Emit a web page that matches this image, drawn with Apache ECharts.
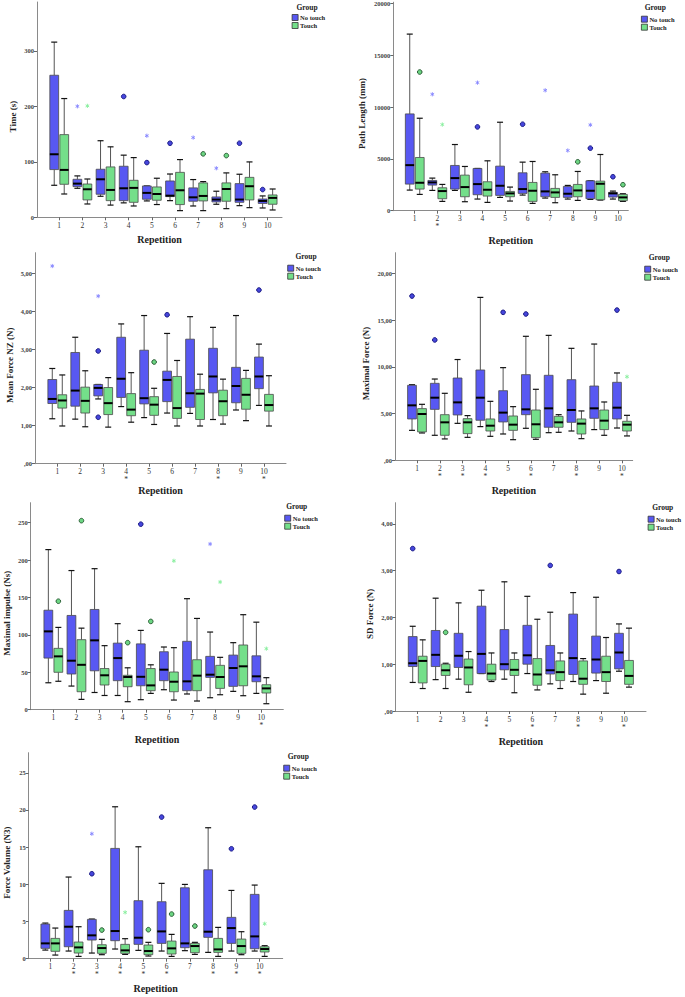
<!DOCTYPE html>
<html><head><meta charset="utf-8">
<script src="https://cdn.jsdelivr.net/npm/echarts@6/dist/echarts.min.js"></script>
<style>html,body{margin:0;padding:0;background:#fff}#c{width:685px;height:997px}</style>
</head><body><div id="c"></div>
<script>
// ---------- DATA ----------
const reps = [1,2,3,4,5,6,7,8,9,10];
const groups = ['No touch','Touch'];

// Each box: [min, Q1, median, Q3, max]; outliers: [repetition, value, kind] ('o' outlier, '*' extreme)
const timeNoTouch = [[57.7,86,113.6,256,315.7],[52.3,55.3,60.7,68.5,74.6],[37.9,41.5,68.5,86.6,138],[26,30,52.3,92,112],[29.5,32.5,44,56.5,56.5],[30,37.3,39,65.5,78],[20.4,28.9,36,53,68],[23.5,27.7,32,36.7,47],[21,27,32,60.7,77.6],[16.8,25,29.5,33,38.5]];
const timeTouch = [[42,59.5,85.4,149,214],[24,31.3,50.5,60,69],[22,30,49.3,90.8,127],[20.4,27,53,66.7,107.6],[23,30.7,42,54.7,70.4],[12,22.9,48.7,81,104],[12,29.5,38.5,62,64.3],[15.6,28.9,51,62,80],[17.4,31.3,56,72,99.8],[13.2,23.5,35,40.3,51]];
const timeOutNoTouch = [[2,200,'*'],[4,217.7,'o'],[5,98.6,'o'],[5,147,'*'],[6,133.5,'o'],[7,143.7,'*'],[8,88.4,'*'],[9,133.5,'o'],[10,50,'o']];
const timeOutTouch = [[2,200.8,'*'],[7,114.3,'o'],[8,111.2,'o']];
const timeTicks = [0,100,200,300];
const timeSigReps = [];

const pathNoTouch = [[1990,2568,4398,9342,17046],[1958,2472,2729,2921,3146],[1958,2087,3146,4366,6388],[1124,1541,2568,4077,4077],[1284,1477,2408,4302,8539],[1509,1669,2087,3660,4687],[1220,1348,1862,3628,3756],[1124,1284,1637,2343,2440],[1091,1156,1926,2889,2889],[1124,1316,1669,1766,1894]];
const pathTouch = [[1573,2087,2697,5136,8925],[899,1156,1894,2215,2536],[867,1348,2279,3435,4270],[803,1412,2022,2793,4815],[931,1348,1669,1862,2279],[706,899,1926,2729,4751],[770,1284,1766,2151,3467],[995,1348,1958,2536,3788],[1027,1059,2600,2857,5425],[899,963,1284,1573,1637]];
const pathOutNoTouch = [[2,11236,'*'],[4,8090,'o'],[4,12360,'*'],[6,8347,'o'],[7,11621,'*'],[8,5811,'*'],[9,6035,'o'],[9,8283,'*'],[10,3274,'o']];
const pathOutTouch = [[1,13387,'o'],[2,8315,'*'],[8,4719,'o'],[10,2504,'o']];
const pathTicks = [0,5000,10000,15000,20000];
const pathSigReps = [2];

const meanNoTouch = [[1.18,1.58,1.70,2.21,2.50],[1.17,1.51,1.92,2.92,3.32],[1.70,1.78,1.99,2.08,2.08],[1.50,1.74,2.23,3.32,3.67],[1.21,1.57,1.72,2.98,3.89],[1.33,1.63,2.20,2.43,3.42],[1.32,1.48,1.85,3.27,3.86],[1.16,1.86,2.29,3.03,3.58],[1.41,1.60,2.04,2.53,3.89],[1.53,1.97,2.29,2.80,3.14]];
const meanTouch = [[0.99,1.46,1.66,1.81,2.33],[0.97,1.33,1.65,2.01,2.44],[0.96,1.29,1.59,2.00,2.26],[1.09,1.26,1.42,1.84,2.39],[1.03,1.27,1.55,1.76,1.98],[0.99,1.19,1.46,2.29,2.71],[0.99,1.16,1.84,1.95,2.35],[1.04,1.26,1.64,1.93,2.22],[1.13,1.43,1.81,2.24,2.45],[0.99,1.38,1.54,1.82,2.31]];
const meanOutNoTouch = [[1,5.19,'*'],[3,2.96,'o'],[3,1.22,'o'],[3,4.40,'*'],[6,3.91,'o'],[10,4.56,'o']];
const meanOutTouch = [[5,2.67,'o']];
const meanTicks = [0,1,2,3,4,5];
const meanSigReps = [4,8,10];

const maxfNoTouch = [[3.21,4.43,5.89,8.04,8.10],[2.68,5.46,6.71,8.25,8.71],[3.96,4.86,6.21,8.82,10.8],[3.61,4.29,6.71,9.68,17.46],[2.82,4.11,5.11,7.46,9.93],[3.43,4.89,5.46,9.18,13.29],[2.96,3.54,5.57,9.11,13.39],[3.14,4.07,5.39,8.64,12.0],[3.29,4.5,5.57,7.96,12.46],[3.46,4.43,5.64,8.36,9.36]];
const maxfTouch = [[2.93,3.04,4.96,5.54,6.0],[2.29,2.68,4.07,4.89,7.18],[2.46,2.86,4.07,4.46,4.79],[2.57,3.14,3.71,4.43,6.32],[2.21,3.21,3.82,4.75,5.75],[2.25,2.43,3.86,5.39,7.61],[3.0,3.54,4.07,4.71,4.89],[2.32,2.82,3.93,4.43,5.29],[2.68,3.29,4.25,5.39,6.25],[2.61,3.14,3.82,4.18,4.82]];
const maxfOutNoTouch = [[1,17.6,'o'],[2,12.9,'o'],[5,15.86,'o'],[6,15.68,'o'],[10,16.1,'o']];
const maxfOutTouch = [[10,8.96,'*']];
const maxfTicks = [0,5,10,15,20];
const maxfSigReps = [2,3,4,6,8,10];

const impNoTouch = [[36,69,104.7,133,214],[31.6,47.7,65.5,126,186],[23,52,92.7,134,188.5],[19,38.8,69,89,115],[13.4,32,44,88,106],[26.7,38.8,53.5,77.5,83.8],[21,25.4,37.9,91.4,148.4],[16,43.2,46.8,71.3,103.8],[24.5,31.2,55.7,73,89.6],[21.8,37.4,44.6,72,117]];
const impTouch = [[38,50,71.3,82,110],[13.8,24,60,93.6,109],[19,33,46,55,85.6],[10.7,30.7,43.7,46,56],[21.8,25.4,32.5,55,60],[12.9,24,37.4,50.4,82.9],[11.6,25.4,45.5,66.8,122],[20,28.5,43.7,59.3,70],[18.7,32,58,86.5,127],[8,22.3,28.5,33.4,42.8]];
const impOutNoTouch = [[5,248,'o'],[8,221.5,'*']];
const impOutTouch = [[1,145,'o'],[2,252.7,'o'],[4,89.6,'o'],[5,118,'o'],[6,199,'*'],[8,170.7,'*'],[10,81.6,'*']];
const impTicks = [0,50,100,150,200,250];
const impSigReps = [10];

const sdNoTouch = [[0.61,0.95,1.02,1.59,1.81],[0.67,0.95,1.20,1.72,2.41],[0.68,0.93,1.18,1.66,2.31],[0.80,0.80,1.22,2.24,2.58],[0.68,0.88,1.00,1.74,2.76],[0.80,1.00,1.19,1.83,2.45],[0.58,0.79,0.87,1.40,2.11],[0.63,0.78,1.13,2.07,2.53],[0.65,0.81,1.10,1.60,2.43],[0.85,0.90,1.25,1.66,1.86]];
const sdTouch = [[0.48,0.60,1.07,1.17,1.52],[0.48,0.76,0.87,1.00,1.02],[0.40,0.56,0.93,1.11,1.27],[0.63,0.66,0.80,1.00,1.24],[0.39,0.76,0.88,1.10,1.24],[0.45,0.55,0.78,1.12,1.96],[0.48,0.65,0.83,1.07,1.24],[0.36,0.57,0.69,1.07,1.12],[0.38,0.63,0.83,1.17,1.57],[0.51,0.57,0.75,1.08,1.77]];
const sdOutNoTouch = [[1,3.47,'o'],[7,3.11,'o'],[10,2.98,'o']];
const sdOutTouch = [[2,1.68,'o']];
const sdTicks = [0,1,2,3,4];
const sdSigReps = [4,6,8,10];

const volNoTouch = [[1.16,1.39,2.06,4.66,4.79],[1.03,1.61,4.30,6.50,10.98],[0.76,2.51,3.14,5.29,5.33],[1.30,2.42,3.72,14.83,20.43],[1.12,1.93,2.82,7.80,15.05],[1.03,2.06,3.67,7.66,10.13],[1.08,1.48,2.06,9.54,9.99],[0.85,2.87,3.63,11.96,17.61],[1.03,2.06,4.12,5.56,9.18],[1.03,1.34,3.0,8.65,9.90]];
const volTouch = [[0.49,0.99,2.06,2.73,4.12],[0.31,0.76,1.52,2.24,4.30],[0.54,0.72,1.43,1.88,2.60],[0.58,0.72,1.12,1.93,2.69],[0.36,0.54,1.03,1.84,2.20],[0.31,0.63,1.39,2.37,3.27],[0.58,0.81,1.70,2.06,2.20],[0.31,0.85,1.25,2.73,4.21],[0.54,0.72,1.70,2.64,3.63],[0.31,0.90,1.30,1.61,1.75]];
const volOutNoTouch = [[3,11.42,'o'],[3,16.8,'*'],[6,19.04,'o'],[9,14.78,'o'],[10,20.39,'o']];
const volOutTouch = [[3,3.85,'o'],[4,6.23,'*'],[5,3.90,'o'],[6,6.0,'o'],[7,4.39,'o'],[10,4.70,'*']];
const volTicks = [0,5,10,15,20,25];
const volSigReps = [2,3,4,5,6,8,9,10];

// ---------- LAYOUT ----------
const panels = [
  {yName:'Time (s)', nt:timeNoTouch, t:timeTouch, ont:timeOutNoTouch, ot:timeOutTouch, ticks:timeTicks, sig:timeSigReps, dec:false,
   l:37, tp:2, r:282, b:217.3, xr:[0.04,10.62], yMax:388, yGap:20, xGap:17, leg:[291.7,14], grp:[307,7]},
  {yName:'Path Length (mm)', nt:pathNoTouch, t:pathTouch, ont:pathOutNoTouch, ot:pathOutTouch, ticks:pathTicks, sig:pathSigReps, dec:false,
   l:393.3, tp:1.7, r:628.3, b:210.7, xr:[0.05,10.46], yMax:20125, yGap:27, xGap:25, leg:[641,15.7], grp:[655.3,7.3]},
  {yName:'Mean Force NZ (N)', nt:meanNoTouch, t:meanTouch, ont:meanOutNoTouch, ot:meanOutTouch, ticks:meanTicks, sig:meanSigReps, dec:true,
   l:35, tp:252.7, r:286, b:463.7, xr:[0.03,10.96], yMax:5.54, yGap:21, xGap:22, leg:[287.3,264.7], grp:[306,256.7]},
  {yName:'Maximal Force (N)', nt:maxfNoTouch, t:maxfTouch, ont:maxfOutNoTouch, ot:maxfOutTouch, ticks:maxfTicks, sig:maxfSigReps, dec:true,
   l:395, tp:252.7, r:632.7, b:460.3, xr:[0.034,10.47], yMax:22.25, yGap:25, xGap:25, leg:[644.3,265.7], grp:[659.3,257.3]},
  {yName:'Maximal impulse (Ns)', nt:impNoTouch, t:impTouch, ont:impOutNoTouch, ot:impOutTouch, ticks:impTicks, sig:impSigReps, dec:false,
   l:30.7, tp:502.7, r:283.3, b:709.7, xr:[0.02,10.95], yMax:276.7, yGap:19, xGap:25, leg:[284.3,514.7], grp:[296.7,506.7]},
  {yName:'SD Force (N)', nt:sdNoTouch, t:sdTouch, ont:sdOutNoTouch, ot:sdOutTouch, ticks:sdTicks, sig:sdSigReps, dec:true,
   l:395.7, tp:502.7, r:646, b:711, xr:[0.04,10.96], yMax:4.45, yGap:21, xGap:25, leg:[647.7,515.7], grp:[662.7,507.3]},
  {yName:'Force Volume (N3)', nt:volNoTouch, t:volTouch, ont:volOutNoTouch, ot:volOutTouch, ticks:volTicks, sig:volSigReps, dec:false,
   l:28.7, tp:752.7, r:282.7, b:958.7, xr:[0.07,10.99], yMax:27.7, yGap:17, xGap:25, leg:[283.3,764.7], grp:[298.3,756.7]}
];

const FONT = '"Liberation Serif", "Times New Roman", serif';
const BLUE = '#5858f2', GREEN = '#74df8a';
const OFF = 5;

function boxRenderer(offset, fill) {
  return function (params, api) {
    const x = api.value(0);
    const pLo = api.coord([x, api.value(1)]);
    const pQ1 = api.coord([x, api.value(2)]);
    const pMd = api.coord([x, api.value(3)]);
    const pQ3 = api.coord([x, api.value(4)]);
    const pHi = api.coord([x, api.value(5)]);
    const cx = pLo[0] + offset, hw = 4.4, cw = 3;
    return {type:'group', children:[
      {type:'line', shape:{x1:cx,y1:pHi[1],x2:cx,y2:pQ3[1]}, style:{stroke:'#555',lineWidth:1}},
      {type:'line', shape:{x1:cx,y1:pQ1[1],x2:cx,y2:pLo[1]}, style:{stroke:'#555',lineWidth:1}},
      {type:'line', shape:{x1:cx-cw,y1:pHi[1],x2:cx+cw,y2:pHi[1]}, style:{stroke:'#111',lineWidth:1.2}},
      {type:'line', shape:{x1:cx-cw,y1:pLo[1],x2:cx+cw,y2:pLo[1]}, style:{stroke:'#111',lineWidth:1.2}},
      {type:'rect', shape:{x:cx-hw,y:pQ3[1],width:hw*2,height:Math.max(pQ1[1]-pQ3[1],0.6)}, style:{fill:fill,stroke:'#4a4a4a',lineWidth:0.8}},
      {type:'line', shape:{x1:cx-hw,y1:pMd[1],x2:cx+hw,y2:pMd[1]}, style:{stroke:'#000',lineWidth:2}}
    ]};
  };
}
function outRenderer(offset, fill, stroke, starColor) {
  return function (params, api) {
    const p = api.coord([api.value(0), api.value(1)]);
    const cx = p[0] + offset, cy = p[1];
    if (api.value(2) === 1) {
      const r = 2.1;
      return {type:'group', children:[0,60,120].map(function (a) {
        const rad = a * Math.PI / 180;
        return {type:'line', shape:{x1:cx-r*Math.sin(rad), y1:cy-r*Math.cos(rad), x2:cx+r*Math.sin(rad), y2:cy+r*Math.cos(rad)}, style:{stroke:starColor, lineWidth:0.9}};
      })};
    }
    return {type:'circle', shape:{cx:cx, cy:cy, r:2.3}, style:{fill:fill, stroke:stroke, lineWidth:1}};
  };
}

const grid = [], xAxis = [], yAxis = [], series = [], legend = [], graphic = [];
panels.forEach(function (P, i) {
  grid.push({left:P.l, top:P.tp, width:P.r-P.l, height:P.b-P.tp, containLabel:false});
  xAxis.push({
    type:'value', gridIndex:i, min:P.xr[0], max:P.xr[1],
    name:'Repetition', nameLocation:'middle', nameGap:P.xGap,
    nameTextStyle:{fontFamily:FONT, fontWeight:'bold', fontSize:10, color:'#222'},
    splitLine:{show:false},
    axisLine:{lineStyle:{color:'#8a8a8a', width:1}},
    axisTick:{show:true, length:3, customValues:reps, lineStyle:{color:'#666'}},
    axisLabel:{customValues:reps, margin:4, fontFamily:FONT, fontSize:7.5, color:'#333', lineHeight:8,
      formatter:function (v) { return P.sig.indexOf(v) >= 0 ? v + '\n*' : String(v); }}
  });
  yAxis.push({
    type:'value', gridIndex:i, min:0, max:P.yMax,
    name:P.yName, nameLocation:'middle', nameGap:P.yGap, nameRotate:90,
    nameTextStyle:{fontFamily:FONT, fontWeight:'bold', fontSize:9, color:'#222', padding:[0,14,0,0]},
    splitLine:{show:false},
    axisLine:{show:true, lineStyle:{color:'#8a8a8a', width:1}},
    axisTick:{show:true, length:3, customValues:P.ticks, lineStyle:{color:'#666'}},
    axisLabel:{customValues:P.ticks, margin:3, fontFamily:FONT, fontSize:6.5, fontWeight:'bold', color:'#444',
      formatter:function (v) { return P.dec ? (v === 0 ? ',00' : v.toFixed(2).replace('.', ',')) : String(v); }}
  });
  [[P.nt, BLUE, -OFF, groups[0]], [P.t, GREEN, OFF, groups[1]]].forEach(function (s) {
    series.push({
      type:'custom', name:s[3], xAxisIndex:i, yAxisIndex:i, clip:false,
      itemStyle:{color:s[1]},
      encode:{x:0, y:[1,2,3,4,5]},
      data:s[0].map(function (d, k) { return [reps[k]].concat(d); }),
      renderItem:boxRenderer(s[2], s[1])
    });
  });
  [[P.ont, -OFF, '#4646dc', '#1c1c85', '#8585ff', groups[0] + ' outliers'],
   [P.ot, OFF, '#6cd683', '#2d5e37', '#86ee9c', groups[1] + ' outliers']].forEach(function (s) {
    series.push({
      type:'custom', name:s[5], xAxisIndex:i, yAxisIndex:i, clip:false,
      encode:{x:0, y:1},
      data:s[0].map(function (d) { return [d[0], d[1], d[2] === '*' ? 1 : 0]; }),
      renderItem:outRenderer(s[1], s[2], s[3], s[4])
    });
  });
  legend.push({
    data:groups, orient:'vertical', left:P.leg[0], top:P.leg[1], itemWidth:6, itemHeight:6, itemGap:1,
    icon:'rect', padding:0, selectedMode:false,
    itemStyle:{borderColor:'#333', borderWidth:0.8},
    textStyle:{fontFamily:FONT, fontWeight:'bold', fontSize:6.5, color:'#222', padding:[0,0,0,-3]}
  });
  graphic.push({type:'text', x:P.grp[0], y:P.grp[1],
    style:{text:'Group', font:'bold 7.5px ' + FONT, fill:'#222', textAlign:'center', textVerticalAlign:'middle'}});
});

const chart = echarts.init(document.getElementById('c'), null, {renderer:'svg'});
chart.setOption({animation:false, backgroundColor:'#fff', grid:grid, xAxis:xAxis, yAxis:yAxis, series:series, legend:legend, graphic:graphic});
</script></body></html>
